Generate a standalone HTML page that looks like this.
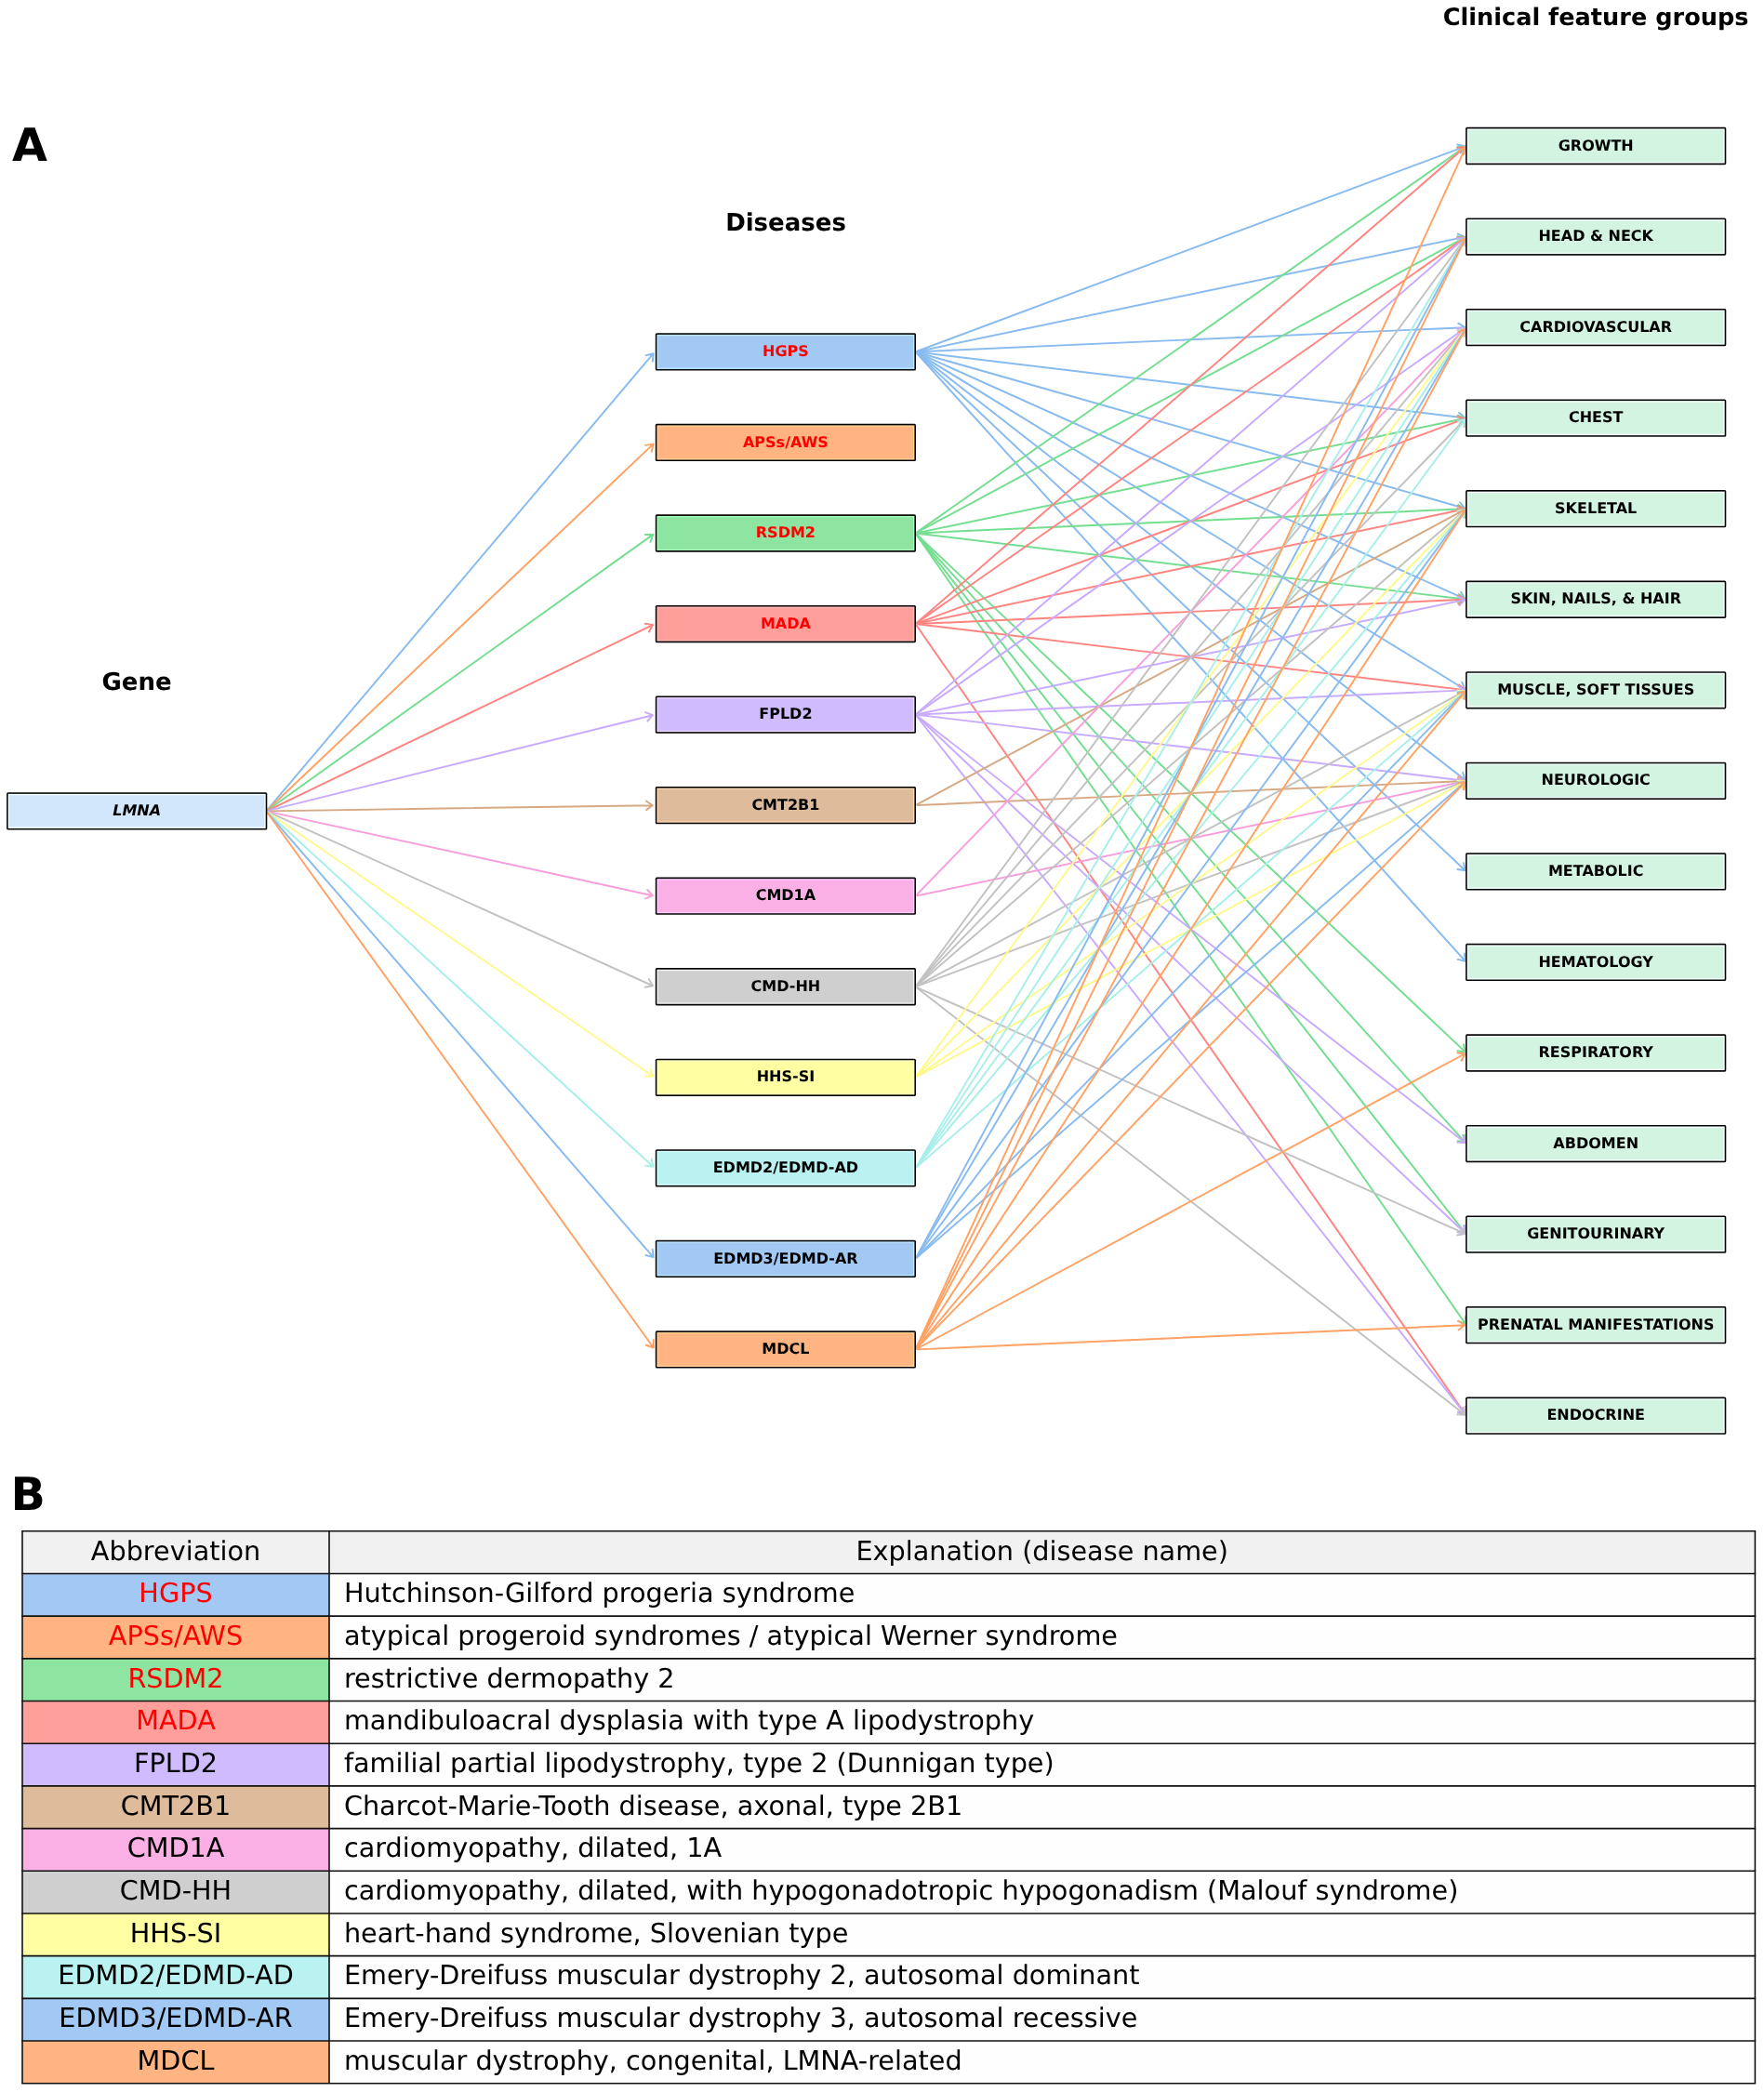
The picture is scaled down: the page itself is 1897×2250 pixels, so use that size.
<!DOCTYPE html><html><head><meta charset="utf-8"><title>LMNA clinical feature groups</title><style>
html,body{margin:0;padding:0;background:#fff;}body{width:1897px;height:2250px;overflow:hidden;}
svg{display:block;will-change:transform;}text{text-rendering:geometricPrecision;}text{font-family:"DejaVu Sans","Liberation Sans",sans-serif;}
.bl{font-size:16px;font-weight:bold;text-anchor:middle;}
.hd{font-size:26px;font-weight:bold;text-anchor:middle;}
.pn{font-size:49px;font-weight:bold;}
.tc{font-size:28.7px;}.tm{text-anchor:middle;}
.ln path{fill:none;stroke-width:1.95;stroke-linecap:round;stroke-linejoin:round;}
</style></head><body>
<svg width="1897" height="2250" viewBox="0 0 1897 2250">
<rect width="1897" height="2250" fill="#fff"/>
<g class="ln">
<path d="M287.59 870.87L702.65 380.23M694.53 382.37L702.65 380.23L701.88 388.60" stroke="#88bbf0"/>
<path d="M287.75 871.02L702.46 477.60M694.15 478.84L702.46 477.60L700.78 485.83" stroke="#ffa265"/>
<path d="M287.93 871.24L702.25 574.90M693.85 574.98L702.25 574.90L699.45 582.82" stroke="#74de90"/>
<path d="M288.10 871.53L702.04 672.09M693.75 670.74L702.04 672.09L697.93 679.42" stroke="#ff8480"/>
<path d="M288.24 871.92L701.87 769.18M694.03 766.16L701.87 769.18L696.35 775.51" stroke="#c8abff"/>
<path d="M288.30 872.37L701.80 866.19M694.85 861.47L701.80 866.19L694.99 871.11" stroke="#d6a983"/>
<path d="M288.25 872.83L701.86 963.19M696.16 957.01L701.86 963.19L694.10 966.43" stroke="#f79fdd"/>
<path d="M288.12 873.22L702.01 1060.26M697.73 1053.04L702.01 1060.26L693.76 1061.82" stroke="#c2c2c2"/>
<path d="M287.95 873.53L702.22 1157.44M699.27 1149.58L702.22 1157.44L693.82 1157.53" stroke="#fff98c"/>
<path d="M287.77 873.75L702.43 1254.73M700.63 1246.52L702.43 1254.73L694.11 1253.62" stroke="#a8efe9"/>
<path d="M287.61 873.91L702.63 1352.09M701.76 1343.73L702.63 1352.09L694.48 1350.05" stroke="#88bbf0"/>
<path d="M287.47 874.02L702.80 1449.50M702.68 1441.10L702.80 1449.50L694.86 1446.74" stroke="#ffa265"/>
<path d="M986.37 377.70L1575.40 157.56M1567.27 155.46L1575.40 157.56L1570.64 164.48" stroke="#88bbf0"/>
<path d="M986.46 377.99L1575.33 254.88M1567.61 251.57L1575.33 254.88L1569.58 261.00" stroke="#88bbf0"/>
<path d="M986.50 378.31L1575.30 352.17M1568.21 347.66L1575.30 352.17L1568.64 357.29" stroke="#88bbf0"/>
<path d="M986.49 378.64L1575.31 449.46M1569.06 443.85L1575.31 449.46L1567.90 453.42" stroke="#88bbf0"/>
<path d="M986.42 378.95L1575.36 546.76M1570.06 540.24L1575.36 546.76L1567.42 549.51" stroke="#88bbf0"/>
<path d="M986.32 379.22L1575.44 644.09M1571.14 636.88L1575.44 644.09L1567.19 645.67" stroke="#88bbf0"/>
<path d="M986.20 379.45L1575.54 741.46M1572.20 733.76L1575.54 741.46L1567.15 741.97" stroke="#88bbf0"/>
<path d="M986.08 379.63L1575.64 838.87M1573.17 830.84L1575.64 838.87L1567.25 838.44" stroke="#88bbf0"/>
<path d="M985.95 379.77L1575.74 936.30M1574.04 928.08L1575.74 936.30L1567.43 935.08" stroke="#88bbf0"/>
<path d="M985.84 379.88L1575.83 1033.76M1574.80 1025.43L1575.83 1033.76L1567.64 1031.88" stroke="#88bbf0"/>
<path d="M986.14 572.35L1575.59 157.92M1567.19 157.94L1575.59 157.92L1572.73 165.82" stroke="#74de90"/>
<path d="M986.26 572.55L1575.49 255.31M1567.15 254.33L1575.49 255.31L1571.72 262.81" stroke="#74de90"/>
<path d="M986.46 573.09L1575.33 449.98M1567.61 446.67L1575.33 449.98L1569.58 456.10" stroke="#74de90"/>
<path d="M986.50 573.41L1575.30 547.27M1568.21 542.76L1575.30 547.27L1568.64 552.39" stroke="#74de90"/>
<path d="M986.49 573.74L1575.31 644.56M1569.06 638.95L1575.31 644.56L1567.90 648.52" stroke="#74de90"/>
<path d="M985.95 574.87L1575.74 1131.40M1574.04 1123.18L1575.74 1131.40L1567.43 1130.18" stroke="#74de90"/>
<path d="M985.84 574.98L1575.83 1228.86M1574.80 1220.53L1575.83 1228.86L1567.64 1226.98" stroke="#74de90"/>
<path d="M985.74 575.07L1575.91 1326.34M1575.45 1317.95L1575.91 1326.34L1567.87 1323.91" stroke="#74de90"/>
<path d="M985.64 575.14L1575.99 1423.84M1576.01 1415.44L1575.99 1423.84L1568.10 1420.94" stroke="#74de90"/>
<path d="M986.01 669.74L1575.69 158.05M1567.34 158.92L1575.69 158.05L1573.65 166.20" stroke="#ff8480"/>
<path d="M986.14 669.90L1575.59 255.47M1567.19 255.49L1575.59 255.47L1572.73 263.37" stroke="#ff8480"/>
<path d="M986.37 670.35L1575.40 450.21M1567.27 448.11L1575.40 450.21L1570.64 457.13" stroke="#ff8480"/>
<path d="M986.46 670.64L1575.33 547.53M1567.61 544.22L1575.33 547.53L1569.58 553.65" stroke="#ff8480"/>
<path d="M986.50 670.96L1575.30 644.82M1568.21 640.31L1575.30 644.82L1568.64 649.94" stroke="#ff8480"/>
<path d="M986.49 671.29L1575.31 742.11M1569.06 736.50L1575.31 742.11L1567.90 746.07" stroke="#ff8480"/>
<path d="M985.64 672.69L1575.99 1521.39M1576.01 1512.99L1575.99 1521.39L1568.10 1518.49" stroke="#ff8480"/>
<path d="M986.01 767.29L1575.69 255.60M1567.34 256.47L1575.69 255.60L1573.65 263.75" stroke="#c8abff"/>
<path d="M986.14 767.45L1575.59 353.02M1567.19 353.04L1575.59 353.02L1572.73 360.92" stroke="#c8abff"/>
<path d="M986.46 768.19L1575.33 645.08M1567.61 641.77L1575.33 645.08L1569.58 651.20" stroke="#c8abff"/>
<path d="M986.50 768.51L1575.30 742.37M1568.21 737.86L1575.30 742.37L1568.64 747.49" stroke="#c8abff"/>
<path d="M986.49 768.84L1575.31 839.66M1569.06 834.05L1575.31 839.66L1567.90 843.62" stroke="#c8abff"/>
<path d="M986.08 769.83L1575.64 1229.07M1573.17 1221.04L1575.64 1229.07L1567.25 1228.64" stroke="#c8abff"/>
<path d="M985.95 769.97L1575.74 1326.50M1574.04 1318.28L1575.74 1326.50L1567.43 1325.28" stroke="#c8abff"/>
<path d="M985.74 770.17L1575.91 1521.44M1575.45 1513.05L1575.91 1521.44L1567.87 1519.01" stroke="#c8abff"/>
<path d="M986.26 865.20L1575.49 547.96M1567.15 546.98L1575.49 547.96L1571.72 555.46" stroke="#d6a983"/>
<path d="M986.50 866.06L1575.30 839.92M1568.21 835.41L1575.30 839.92L1568.64 845.04" stroke="#d6a983"/>
<path d="M985.89 962.26L1575.79 353.25M1567.54 354.84L1575.79 353.25L1574.46 361.54" stroke="#f79fdd"/>
<path d="M986.46 963.29L1575.33 840.18M1567.61 836.87L1575.33 840.18L1569.58 846.30" stroke="#f79fdd"/>
<path d="M985.68 1059.64L1575.95 255.84M1568.00 258.53L1575.95 255.84L1575.76 264.24" stroke="#c2c2c2"/>
<path d="M985.78 1059.72L1575.87 353.33M1567.77 355.52L1575.87 353.33L1575.16 361.70" stroke="#c2c2c2"/>
<path d="M985.89 1059.81L1575.79 450.80M1567.54 452.39L1575.79 450.80L1574.46 459.09" stroke="#c2c2c2"/>
<path d="M986.01 1059.94L1575.69 548.25M1567.34 549.12L1575.69 548.25L1573.65 556.40" stroke="#c2c2c2"/>
<path d="M986.26 1060.30L1575.49 743.06M1567.15 742.08L1575.49 743.06L1571.72 750.56" stroke="#c2c2c2"/>
<path d="M986.37 1060.55L1575.40 840.41M1567.27 838.31L1575.40 840.41L1570.64 847.33" stroke="#c2c2c2"/>
<path d="M986.32 1062.07L1575.44 1326.94M1571.14 1319.73L1575.44 1326.94L1567.19 1328.52" stroke="#c2c2c2"/>
<path d="M986.08 1062.48L1575.64 1521.72M1573.17 1513.69L1575.64 1521.72L1567.25 1521.29" stroke="#c2c2c2"/>
<path d="M985.68 1157.19L1575.95 353.39M1568.00 356.08L1575.95 353.39L1575.76 361.79" stroke="#fff98c"/>
<path d="M985.89 1157.36L1575.79 548.35M1567.54 549.94L1575.79 548.35L1574.46 556.64" stroke="#fff98c"/>
<path d="M986.14 1157.65L1575.59 743.22M1567.19 743.24L1575.59 743.22L1572.73 751.12" stroke="#fff98c"/>
<path d="M986.26 1157.85L1575.49 840.61M1567.15 839.63L1575.49 840.61L1571.72 848.11" stroke="#fff98c"/>
<path d="M985.52 1254.63L1576.09 255.93M1568.44 259.40L1576.09 255.93L1576.73 264.30" stroke="#a8efe9"/>
<path d="M985.60 1254.68L1576.02 353.44M1568.22 356.55L1576.02 353.44L1576.28 361.83" stroke="#a8efe9"/>
<path d="M985.68 1254.74L1575.95 450.94M1568.00 453.63L1575.95 450.94L1575.76 459.34" stroke="#a8efe9"/>
<path d="M985.78 1254.82L1575.87 548.43M1567.77 550.62L1575.87 548.43L1575.16 556.80" stroke="#a8efe9"/>
<path d="M986.01 1255.04L1575.69 743.35M1567.34 744.22L1575.69 743.35L1573.65 751.50" stroke="#a8efe9"/>
<path d="M985.45 1352.14L1576.14 255.96M1568.64 259.73L1576.14 255.96L1577.12 264.30" stroke="#88bbf0"/>
<path d="M985.52 1352.18L1576.09 353.48M1568.44 356.95L1576.09 353.48L1576.73 361.85" stroke="#88bbf0"/>
<path d="M985.68 1352.29L1575.95 548.49M1568.00 551.18L1575.95 548.49L1575.76 556.89" stroke="#88bbf0"/>
<path d="M985.89 1352.46L1575.79 743.45M1567.54 745.04L1575.79 743.45L1574.46 751.74" stroke="#88bbf0"/>
<path d="M986.01 1352.59L1575.69 840.90M1567.34 841.77L1575.69 840.90L1573.65 849.05" stroke="#88bbf0"/>
<path d="M985.33 1449.63L1576.23 158.45M1568.99 162.71L1576.23 158.45L1577.75 166.72" stroke="#ffa265"/>
<path d="M985.39 1449.66L1576.19 255.98M1568.82 260.01L1576.19 255.98L1577.46 264.29" stroke="#ffa265"/>
<path d="M985.45 1449.69L1576.14 353.51M1568.64 357.28L1576.14 353.51L1577.12 361.85" stroke="#ffa265"/>
<path d="M985.60 1449.78L1576.02 548.54M1568.22 551.65L1576.02 548.54L1576.28 556.93" stroke="#ffa265"/>
<path d="M985.78 1449.92L1575.87 743.53M1567.77 745.72L1575.87 743.53L1575.16 751.90" stroke="#ffa265"/>
<path d="M985.89 1450.01L1575.79 841.00M1567.54 842.59L1575.79 841.00L1574.46 849.29" stroke="#ffa265"/>
<path d="M986.26 1450.50L1575.49 1133.26M1567.15 1132.28L1575.49 1133.26L1571.72 1140.76" stroke="#ffa265"/>
<path d="M986.50 1451.36L1575.30 1425.22M1568.21 1420.71L1575.30 1425.22L1568.64 1430.34" stroke="#ffa265"/>
</g>
<rect x="7.10" y="852.25" width="280.20" height="40.30" rx="1.6" fill="#050505"/>
<rect x="8.70" y="853.85" width="277.00" height="37.10" fill="#f4ffff"/>
<rect x="10.10" y="855.25" width="274.20" height="34.30" fill="#d2e7fc"/>
<rect x="704.80" y="358.25" width="280.20" height="40.30" rx="1.6" fill="#050505"/>
<rect x="706.40" y="359.85" width="277.00" height="37.10" fill="#bbe9ff"/>
<rect x="707.80" y="361.25" width="274.20" height="34.30" fill="#a1c9f4"/>
<rect x="704.80" y="455.80" width="280.20" height="40.30" rx="1.6" fill="#050505"/>
<rect x="706.40" y="457.40" width="277.00" height="37.10" fill="#ffd197"/>
<rect x="707.80" y="458.80" width="274.20" height="34.30" fill="#ffb482"/>
<rect x="704.80" y="553.35" width="280.20" height="40.30" rx="1.6" fill="#050505"/>
<rect x="706.40" y="554.95" width="277.00" height="37.10" fill="#a4ffbb"/>
<rect x="707.80" y="556.35" width="274.20" height="34.30" fill="#8de5a1"/>
<rect x="704.80" y="650.90" width="280.20" height="40.30" rx="1.6" fill="#050505"/>
<rect x="706.40" y="652.50" width="277.00" height="37.10" fill="#ffb8b4"/>
<rect x="707.80" y="653.90" width="274.20" height="34.30" fill="#ff9f9b"/>
<rect x="704.80" y="748.45" width="280.20" height="40.30" rx="1.6" fill="#050505"/>
<rect x="706.40" y="750.05" width="277.00" height="37.10" fill="#f1d9ff"/>
<rect x="707.80" y="751.45" width="274.20" height="34.30" fill="#d0bbff"/>
<rect x="704.80" y="846.00" width="280.20" height="40.30" rx="1.6" fill="#050505"/>
<rect x="706.40" y="847.60" width="277.00" height="37.10" fill="#ffd9b4"/>
<rect x="707.80" y="849.00" width="274.20" height="34.30" fill="#debb9b"/>
<rect x="704.80" y="943.55" width="280.20" height="40.30" rx="1.6" fill="#050505"/>
<rect x="706.40" y="945.15" width="277.00" height="37.10" fill="#ffccff"/>
<rect x="707.80" y="946.55" width="274.20" height="34.30" fill="#fab0e4"/>
<rect x="704.80" y="1041.10" width="280.20" height="40.30" rx="1.6" fill="#050505"/>
<rect x="706.40" y="1042.70" width="277.00" height="37.10" fill="#f0f0f0"/>
<rect x="707.80" y="1044.10" width="274.20" height="34.30" fill="#cfcfcf"/>
<rect x="704.80" y="1138.65" width="280.20" height="40.30" rx="1.6" fill="#050505"/>
<rect x="706.40" y="1140.25" width="277.00" height="37.10" fill="#ffffbd"/>
<rect x="707.80" y="1141.65" width="274.20" height="34.30" fill="#fffea3"/>
<rect x="704.80" y="1236.20" width="280.20" height="40.30" rx="1.6" fill="#050505"/>
<rect x="706.40" y="1237.80" width="277.00" height="37.10" fill="#d7ffff"/>
<rect x="707.80" y="1239.20" width="274.20" height="34.30" fill="#b9f2f0"/>
<rect x="704.80" y="1333.75" width="280.20" height="40.30" rx="1.6" fill="#050505"/>
<rect x="706.40" y="1335.35" width="277.00" height="37.10" fill="#bbe9ff"/>
<rect x="707.80" y="1336.75" width="274.20" height="34.30" fill="#a1c9f4"/>
<rect x="704.80" y="1431.30" width="280.20" height="40.30" rx="1.6" fill="#050505"/>
<rect x="706.40" y="1432.90" width="277.00" height="37.10" fill="#ffd197"/>
<rect x="707.80" y="1434.30" width="274.20" height="34.30" fill="#ffb482"/>
<rect x="1576.10" y="136.85" width="280.20" height="40.30" rx="1.6" fill="#050505"/>
<rect x="1577.70" y="138.45" width="277.00" height="37.10" fill="#f6ffff"/>
<rect x="1579.10" y="139.85" width="274.20" height="34.30" fill="#d4f4e2"/>
<rect x="1576.10" y="234.40" width="280.20" height="40.30" rx="1.6" fill="#050505"/>
<rect x="1577.70" y="236.00" width="277.00" height="37.10" fill="#f6ffff"/>
<rect x="1579.10" y="237.40" width="274.20" height="34.30" fill="#d4f4e2"/>
<rect x="1576.10" y="331.95" width="280.20" height="40.30" rx="1.6" fill="#050505"/>
<rect x="1577.70" y="333.55" width="277.00" height="37.10" fill="#f6ffff"/>
<rect x="1579.10" y="334.95" width="274.20" height="34.30" fill="#d4f4e2"/>
<rect x="1576.10" y="429.50" width="280.20" height="40.30" rx="1.6" fill="#050505"/>
<rect x="1577.70" y="431.10" width="277.00" height="37.10" fill="#f6ffff"/>
<rect x="1579.10" y="432.50" width="274.20" height="34.30" fill="#d4f4e2"/>
<rect x="1576.10" y="527.05" width="280.20" height="40.30" rx="1.6" fill="#050505"/>
<rect x="1577.70" y="528.65" width="277.00" height="37.10" fill="#f6ffff"/>
<rect x="1579.10" y="530.05" width="274.20" height="34.30" fill="#d4f4e2"/>
<rect x="1576.10" y="624.60" width="280.20" height="40.30" rx="1.6" fill="#050505"/>
<rect x="1577.70" y="626.20" width="277.00" height="37.10" fill="#f6ffff"/>
<rect x="1579.10" y="627.60" width="274.20" height="34.30" fill="#d4f4e2"/>
<rect x="1576.10" y="722.15" width="280.20" height="40.30" rx="1.6" fill="#050505"/>
<rect x="1577.70" y="723.75" width="277.00" height="37.10" fill="#f6ffff"/>
<rect x="1579.10" y="725.15" width="274.20" height="34.30" fill="#d4f4e2"/>
<rect x="1576.10" y="819.70" width="280.20" height="40.30" rx="1.6" fill="#050505"/>
<rect x="1577.70" y="821.30" width="277.00" height="37.10" fill="#f6ffff"/>
<rect x="1579.10" y="822.70" width="274.20" height="34.30" fill="#d4f4e2"/>
<rect x="1576.10" y="917.25" width="280.20" height="40.30" rx="1.6" fill="#050505"/>
<rect x="1577.70" y="918.85" width="277.00" height="37.10" fill="#f6ffff"/>
<rect x="1579.10" y="920.25" width="274.20" height="34.30" fill="#d4f4e2"/>
<rect x="1576.10" y="1014.80" width="280.20" height="40.30" rx="1.6" fill="#050505"/>
<rect x="1577.70" y="1016.40" width="277.00" height="37.10" fill="#f6ffff"/>
<rect x="1579.10" y="1017.80" width="274.20" height="34.30" fill="#d4f4e2"/>
<rect x="1576.10" y="1112.35" width="280.20" height="40.30" rx="1.6" fill="#050505"/>
<rect x="1577.70" y="1113.95" width="277.00" height="37.10" fill="#f6ffff"/>
<rect x="1579.10" y="1115.35" width="274.20" height="34.30" fill="#d4f4e2"/>
<rect x="1576.10" y="1209.90" width="280.20" height="40.30" rx="1.6" fill="#050505"/>
<rect x="1577.70" y="1211.50" width="277.00" height="37.10" fill="#f6ffff"/>
<rect x="1579.10" y="1212.90" width="274.20" height="34.30" fill="#d4f4e2"/>
<rect x="1576.10" y="1307.45" width="280.20" height="40.30" rx="1.6" fill="#050505"/>
<rect x="1577.70" y="1309.05" width="277.00" height="37.10" fill="#f6ffff"/>
<rect x="1579.10" y="1310.45" width="274.20" height="34.30" fill="#d4f4e2"/>
<rect x="1576.10" y="1405.00" width="280.20" height="40.30" rx="1.6" fill="#050505"/>
<rect x="1577.70" y="1406.60" width="277.00" height="37.10" fill="#f6ffff"/>
<rect x="1579.10" y="1408.00" width="274.20" height="34.30" fill="#d4f4e2"/>
<rect x="1576.10" y="1502.55" width="280.20" height="40.30" rx="1.6" fill="#050505"/>
<rect x="1577.70" y="1504.15" width="277.00" height="37.10" fill="#f6ffff"/>
<rect x="1579.10" y="1505.55" width="274.20" height="34.30" fill="#d4f4e2"/>
<rect x="24.0" y="1646.8" width="1863.40" height="45.68" fill="#f1f1f1"/>
<rect x="24.0" y="1692.48" width="330.00" height="45.68" fill="#a1c9f4"/>
<rect x="354.0" y="1692.48" width="1533.40" height="45.68" fill="#fefefe"/>
<rect x="24.0" y="1738.17" width="330.00" height="45.68" fill="#ffb482"/>
<rect x="354.0" y="1738.17" width="1533.40" height="45.68" fill="#fefefe"/>
<rect x="24.0" y="1783.85" width="330.00" height="45.68" fill="#8de5a1"/>
<rect x="354.0" y="1783.85" width="1533.40" height="45.68" fill="#fefefe"/>
<rect x="24.0" y="1829.54" width="330.00" height="45.68" fill="#ff9f9b"/>
<rect x="354.0" y="1829.54" width="1533.40" height="45.68" fill="#fefefe"/>
<rect x="24.0" y="1875.22" width="330.00" height="45.68" fill="#d0bbff"/>
<rect x="354.0" y="1875.22" width="1533.40" height="45.68" fill="#fefefe"/>
<rect x="24.0" y="1920.91" width="330.00" height="45.68" fill="#debb9b"/>
<rect x="354.0" y="1920.91" width="1533.40" height="45.68" fill="#fefefe"/>
<rect x="24.0" y="1966.59" width="330.00" height="45.68" fill="#fab0e4"/>
<rect x="354.0" y="1966.59" width="1533.40" height="45.68" fill="#fefefe"/>
<rect x="24.0" y="2012.28" width="330.00" height="45.68" fill="#cfcfcf"/>
<rect x="354.0" y="2012.28" width="1533.40" height="45.68" fill="#fefefe"/>
<rect x="24.0" y="2057.96" width="330.00" height="45.68" fill="#fffea3"/>
<rect x="354.0" y="2057.96" width="1533.40" height="45.68" fill="#fefefe"/>
<rect x="24.0" y="2103.65" width="330.00" height="45.68" fill="#b9f2f0"/>
<rect x="354.0" y="2103.65" width="1533.40" height="45.68" fill="#fefefe"/>
<rect x="24.0" y="2149.33" width="330.00" height="45.68" fill="#a1c9f4"/>
<rect x="354.0" y="2149.33" width="1533.40" height="45.68" fill="#fefefe"/>
<rect x="24.0" y="2195.02" width="330.00" height="45.68" fill="#ffb482"/>
<rect x="354.0" y="2195.02" width="1533.40" height="45.68" fill="#fefefe"/>
<g stroke="#111" stroke-width="1.6" fill="none">
<line x1="23.2" y1="1646.80" x2="1888.2" y2="1646.80"/>
<line x1="23.2" y1="1692.48" x2="1888.2" y2="1692.48"/>
<line x1="23.2" y1="1738.17" x2="1888.2" y2="1738.17"/>
<line x1="23.2" y1="1783.85" x2="1888.2" y2="1783.85"/>
<line x1="23.2" y1="1829.54" x2="1888.2" y2="1829.54"/>
<line x1="23.2" y1="1875.22" x2="1888.2" y2="1875.22"/>
<line x1="23.2" y1="1920.91" x2="1888.2" y2="1920.91"/>
<line x1="23.2" y1="1966.59" x2="1888.2" y2="1966.59"/>
<line x1="23.2" y1="2012.28" x2="1888.2" y2="2012.28"/>
<line x1="23.2" y1="2057.96" x2="1888.2" y2="2057.96"/>
<line x1="23.2" y1="2103.65" x2="1888.2" y2="2103.65"/>
<line x1="23.2" y1="2149.33" x2="1888.2" y2="2149.33"/>
<line x1="23.2" y1="2195.02" x2="1888.2" y2="2195.02"/>
<line x1="23.2" y1="2240.70" x2="1888.2" y2="2240.70"/>
<line x1="24.0" y1="1646.80" x2="24.0" y2="2240.70"/>
<line x1="354.0" y1="1646.80" x2="354.0" y2="2240.70"/>
<line x1="1887.4" y1="1646.80" x2="1887.4" y2="2240.70"/>
</g>
<g class="txt">
<text x="1716.1" y="27.1" class="hd" style="font-size:25.6px">Clinical feature groups</text>
<text x="13.0" y="172.7" class="pn">A</text>
<text x="845.0" y="248.4" class="hd">Diseases</text>
<text x="147.1" y="742.4" class="hd">Gene</text>
<text x="11.5" y="1624.4" class="pn">B</text>
<text x="147.20" y="877.00" class="bl" fill="#000" font-style="italic">LMNA</text>
<text x="844.90" y="383.00" class="bl" fill="#ff0000">HGPS</text>
<text x="844.90" y="480.55" class="bl" fill="#ff0000">APSs/AWS</text>
<text x="844.90" y="578.10" class="bl" fill="#ff0000">RSDM2</text>
<text x="844.90" y="675.65" class="bl" fill="#ff0000">MADA</text>
<text x="844.90" y="773.20" class="bl" fill="#000">FPLD2</text>
<text x="844.90" y="870.75" class="bl" fill="#000">CMT2B1</text>
<text x="844.90" y="968.30" class="bl" fill="#000">CMD1A</text>
<text x="844.90" y="1065.85" class="bl" fill="#000">CMD-HH</text>
<text x="844.90" y="1163.40" class="bl" fill="#000">HHS-SI</text>
<text x="844.90" y="1260.95" class="bl" fill="#000">EDMD2/EDMD-AD</text>
<text x="844.90" y="1358.50" class="bl" fill="#000">EDMD3/EDMD-AR</text>
<text x="844.90" y="1456.05" class="bl" fill="#000">MDCL</text>
<text x="1716.20" y="161.60" class="bl" fill="#000">GROWTH</text>
<text x="1716.20" y="259.15" class="bl" fill="#000">HEAD &amp; NECK</text>
<text x="1716.20" y="356.70" class="bl" fill="#000">CARDIOVASCULAR</text>
<text x="1716.20" y="454.25" class="bl" fill="#000">CHEST</text>
<text x="1716.20" y="551.80" class="bl" fill="#000">SKELETAL</text>
<text x="1716.20" y="649.35" class="bl" fill="#000">SKIN, NAILS, &amp; HAIR</text>
<text x="1716.20" y="746.90" class="bl" fill="#000">MUSCLE, SOFT TISSUES</text>
<text x="1716.20" y="844.45" class="bl" fill="#000">NEUROLOGIC</text>
<text x="1716.20" y="942.00" class="bl" fill="#000">METABOLIC</text>
<text x="1716.20" y="1039.55" class="bl" fill="#000">HEMATOLOGY</text>
<text x="1716.20" y="1137.10" class="bl" fill="#000">RESPIRATORY</text>
<text x="1716.20" y="1234.65" class="bl" fill="#000">ABDOMEN</text>
<text x="1716.20" y="1332.20" class="bl" fill="#000">GENITOURINARY</text>
<text x="1716.20" y="1429.75" class="bl" fill="#000">PRENATAL MANIFESTATIONS</text>
<text x="1716.20" y="1527.30" class="bl" fill="#000">ENDOCRINE</text>
<text x="189.00" y="1677.50" class="tc tm">Abbreviation</text>
<text x="1120.70" y="1677.50" class="tc tm">Explanation (disease name)</text>
<text x="189.00" y="1723.18" class="tc tm" fill="#ff0000">HGPS</text>
<text x="369.9" y="1723.18" class="tc">Hutchinson-Gilford progeria syndrome</text>
<text x="189.00" y="1768.87" class="tc tm" fill="#ff0000">APSs/AWS</text>
<text x="369.9" y="1768.87" class="tc">atypical progeroid syndromes / atypical Werner syndrome</text>
<text x="189.00" y="1814.55" class="tc tm" fill="#ff0000">RSDM2</text>
<text x="369.9" y="1814.55" class="tc">restrictive dermopathy 2</text>
<text x="189.00" y="1860.24" class="tc tm" fill="#ff0000">MADA</text>
<text x="369.9" y="1860.24" class="tc">mandibuloacral dysplasia with type A lipodystrophy</text>
<text x="189.00" y="1905.92" class="tc tm" fill="#000">FPLD2</text>
<text x="369.9" y="1905.92" class="tc">familial partial lipodystrophy, type 2 (Dunnigan type)</text>
<text x="189.00" y="1951.61" class="tc tm" fill="#000">CMT2B1</text>
<text x="369.9" y="1951.61" class="tc">Charcot-Marie-Tooth disease, axonal, type 2B1</text>
<text x="189.00" y="1997.29" class="tc tm" fill="#000">CMD1A</text>
<text x="369.9" y="1997.29" class="tc">cardiomyopathy, dilated, 1A</text>
<text x="189.00" y="2042.98" class="tc tm" fill="#000">CMD-HH</text>
<text x="369.9" y="2042.98" class="tc">cardiomyopathy, dilated, with hypogonadotropic hypogonadism (Malouf syndrome)</text>
<text x="189.00" y="2088.66" class="tc tm" fill="#000">HHS-SI</text>
<text x="369.9" y="2088.66" class="tc">heart-hand syndrome, Slovenian type</text>
<text x="189.00" y="2134.35" class="tc tm" fill="#000">EDMD2/EDMD-AD</text>
<text x="369.9" y="2134.35" class="tc">Emery-Dreifuss muscular dystrophy 2, autosomal dominant</text>
<text x="189.00" y="2180.03" class="tc tm" fill="#000">EDMD3/EDMD-AR</text>
<text x="369.9" y="2180.03" class="tc">Emery-Dreifuss muscular dystrophy 3, autosomal recessive</text>
<text x="189.00" y="2225.72" class="tc tm" fill="#000">MDCL</text>
<text x="369.9" y="2225.72" class="tc">muscular dystrophy, congenital, LMNA-related</text>
</g>
</svg></body></html>
